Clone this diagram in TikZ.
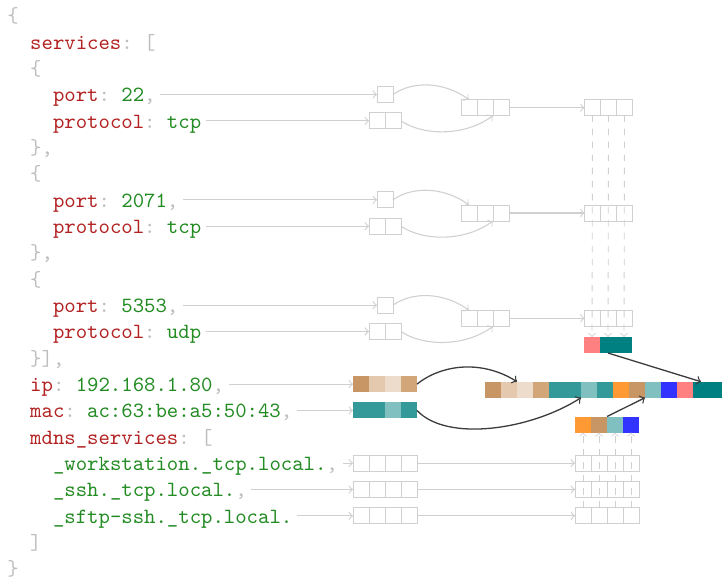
\documentclass[tikz,border=0pt]{standalone}

\definecolor{keyred}{RGB}{178,34,34}
\definecolor{valgreen}{RGB}{34,139,34}
\definecolor{punct}{RGB}{190,190,190}
\definecolor{boxgray}{RGB}{208,208,208}
\definecolor{darkline}{RGB}{60,60,60}
\definecolor{tana}{RGB}{200,150,100}
\definecolor{tanb}{RGB}{229,201,174}
\definecolor{tanc}{RGB}{237,220,203}
\definecolor{tand}{RGB}{210,166,120}
\definecolor{tealm}{RGB}{51,153,153}
\definecolor{teall}{RGB}{128,192,192}
\definecolor{teald}{RGB}{0,128,128}
\definecolor{orng}{RGB}{255,153,51}
\definecolor{blu}{RGB}{51,51,255}
\definecolor{salmn}{RGB}{255,128,128}

\newcommand\jkey[1]{\textcolor{keyred}{#1}}
\newcommand\jval[1]{\textcolor{valgreen}{#1}}
\newcommand\jpun[1]{\textcolor{punct}{#1}}

% a row of empty cells / coloured bytes
\newcommand\boxrow[5]{\foreach \i in {1,...,#4}{\node[#5] (#1-\i) at ({#2+16*\i-8},{#3}) {};}}
\newcommand\bitrow[4]{\foreach \c [count=\i] in {#4}{\node[bit, fill=\c] (#1-\i) at ({#2+16*\i-8},{#3}) {};}}

\tikzset{
  jline/.style={anchor=west, inner sep=0pt, text height=7pt, text depth=0.2pt, font=\ttfamily\frenchspacing},
  cell/.style={draw=boxgray, minimum size=7.37pt, inner sep=0pt, outer sep=0pt},
  bit/.style={minimum size=7.37pt, inner sep=0pt, outer sep=0pt},
  conn/.style={draw=boxgray, line width=0.5pt, ->},
  link/.style={draw=darkline, ->, line width=0.6pt},
  bus/.style={draw=boxgray, ->, dashed},
}

\begin{document}
\begin{tikzpicture}[x=0.4608pt, y=-0.4608pt]
    \def\ls{26.33}
    \def\yo{15.5}
    \def\ia{7}
    \def\ib{29.8}
    \def\ic{52.6}
    \clip (0,0) rectangle (722,578);

    % json
    \node[jline] (open) at (\ia, \yo) {\jpun{\{}};
    \node[jline] (svc) at (\ib, \yo+1*\ls) {\jkey{services}\jpun{: [}};
    \node[jline] (oa) at (\ib, \yo+2*\ls) {\jpun{\{}};
    \node[jline] (port1) at (\ic, \yo+3*\ls) {\jkey{port}\jpun{:} \jval{22}\jpun{,}};
    \node[jline] (proto1) at (\ic, \yo+4*\ls) {\jkey{protocol}\jpun{:} \jval{tcp}};
    \node[jline] (ca) at (\ib, \yo+5*\ls) {\jpun{\},}};
    \node[jline] (ob) at (\ib, \yo+6*\ls) {\jpun{\{}};
    \node[jline] (port2) at (\ic, \yo+7*\ls) {\jkey{port}\jpun{:} \jval{2071}\jpun{,}};
    \node[jline] (proto2) at (\ic, \yo+8*\ls) {\jkey{protocol}\jpun{:} \jval{tcp}};
    \node[jline] (cb) at (\ib, \yo+9*\ls) {\jpun{\},}};
    \node[jline] (oc) at (\ib, \yo+10*\ls) {\jpun{\{}};
    \node[jline] (port3) at (\ic, \yo+11*\ls) {\jkey{port}\jpun{:} \jval{5353}\jpun{,}};
    \node[jline] (proto3) at (\ic, \yo+12*\ls) {\jkey{protocol}\jpun{:} \jval{udp}};
    \node[jline] (cc) at (\ib, \yo+13*\ls) {\jpun{\}],}};
    \node[jline] (ip) at (\ib, \yo+14*\ls) {\jkey{ip}\jpun{:} \jval{192.168.1.80}\jpun{,}};
    \node[jline] (mac) at (\ib, \yo+15*\ls) {\jkey{mac}\jpun{:} \jval{ac:63:be:a5:50:43}\jpun{,}};
    \node[jline] (mdns) at (\ib, \yo+16*\ls) {\jkey{mdns\_services}\jpun{: [}};
    \node[jline] (ws) at (\ic, \yo+17*\ls) {\jval{\_workstation.\_tcp.local.}\jpun{,}};
    \node[jline] (ssh) at (\ic, \yo+18*\ls) {\jval{\_ssh.\_tcp.local.}\jpun{,}};
    \node[jline] (sftp) at (\ic, \yo+19*\ls) {\jval{\_sftp-ssh.\_tcp.local.}};
    \node[jline] (cd) at (\ib, \yo+20*\ls) {\jpun{]}};
    \node[jline] (close) at (\ia, \yo+21*\ls) {\jpun{\}}};

    % services
    \boxrow{pt1}{377}{\yo+3*\ls}{1}{cell}
    \boxrow{pr1}{369}{\yo+4*\ls}{2}{cell}
    \boxrow{mg1}{461}{\yo+3.5*\ls}{3}{cell}
    \boxrow{out1}{584.5}{\yo+3.5*\ls}{3}{cell}
    \boxrow{pt2}{377}{\yo+7*\ls}{1}{cell}
    \boxrow{pr2}{369}{\yo+8*\ls}{2}{cell}
    \boxrow{mg2}{461}{\yo+7.5*\ls}{3}{cell}
    \boxrow{out2}{584.5}{\yo+7.5*\ls}{3}{cell}
    \boxrow{pt3}{377}{\yo+11*\ls}{1}{cell}
    \boxrow{pr3}{369}{\yo+12*\ls}{2}{cell}
    \boxrow{mg3}{461}{\yo+11.5*\ls}{3}{cell}
    \boxrow{out3}{584.5}{\yo+11.5*\ls}{3}{cell}

    % mdns
    \boxrow{wsl}{353}{\yo+17*\ls}{4}{cell}
    \boxrow{sshl}{353}{\yo+18*\ls}{4}{cell}
    \boxrow{sftpl}{353}{\yo+19*\ls}{4}{cell}
    \boxrow{wsr}{575}{\yo+17*\ls}{4}{cell}
    \boxrow{sshr}{575}{\yo+18*\ls}{4}{cell}
    \boxrow{sftpr}{575}{\yo+19*\ls}{4}{cell}

    % bytes
    \bitrow{pbar}{584}{345}{salmn,teald,teald}
    \bitrow{ipbar}{353}{\yo+14*\ls}{tana,tanb,tanc,tand}
    \bitrow{macbar}{353}{\yo+15*\ls}{tealm,tealm,teall,tealm}
    \bitrow{mbar}{575}{424.5}{orng,tana,teall,blu}
    \bitrow{big}{485}{389.7}{tana,tanb,tanc,tand,tealm,tealm,teall,tealm,orng,tana,teall,blu,salmn,teald,teald}

    % text to cells
    \draw[conn, shorten <=2pt] (port1) -- (pt1-1);
    \draw[conn, shorten <=2pt] (proto1) -- (pr1-1);
    \draw[conn, shorten <=2pt] (port2) -- (pt2-1);
    \draw[conn, shorten <=2pt] (proto2) -- (pr2-1);
    \draw[conn, shorten <=2pt] (port3) -- (pt3-1);
    \draw[conn, shorten <=2pt] (proto3) -- (pr3-1);
    \draw[conn, shorten <=2pt] (ip) -- (ipbar-1);
    \draw[conn, shorten <=2pt] (mac) -- (macbar-1);
    \draw[conn, shorten <=2pt] (ws) -- (wsl-1);
    \draw[conn, shorten <=2pt] (ssh) -- (sshl-1);
    \draw[conn, shorten <=2pt] (sftp) -- (sftpl-1);

    % merging
    \foreach \r in {1,2,3}{
      \draw[conn] (pt\r-1.east) .. controls +(20,-14) and +(-25,-18) .. (mg\r-1.north);
      \draw[conn] (pr\r-2.east) .. controls +(20,14) and +(-30,22) .. (mg\r-2.south east);
      \draw[conn] (mg\r-3) -- (out\r-1);
    }
    \draw[conn] (wsl-4) -- (wsr-1);
    \draw[conn] (sshl-4) -- (sshr-1);
    \draw[conn] (sftpl-4) -- (sftpr-1);
    \foreach \i in {1,2,3} \draw[bus] (out1-\i) -- (pbar-\i);
    \foreach \i in {1,...,4} \draw[bus] (sftpr-\i) -- (mbar-\i);

    % into the big one
    \draw[link] (ipbar-4.east) .. controls +(25,-20) and +(-35,-22) .. (big-2.north east);
    \draw[link] (macbar-4.east) .. controls +(30,32) and +(-50,32) .. (big-6.south east);
    \draw[link] (mbar-2.north east) -- (big-10.south east);
    \draw[link] (pbar-2.south) -- (big-14.north);
\end{tikzpicture}
\end{document}
